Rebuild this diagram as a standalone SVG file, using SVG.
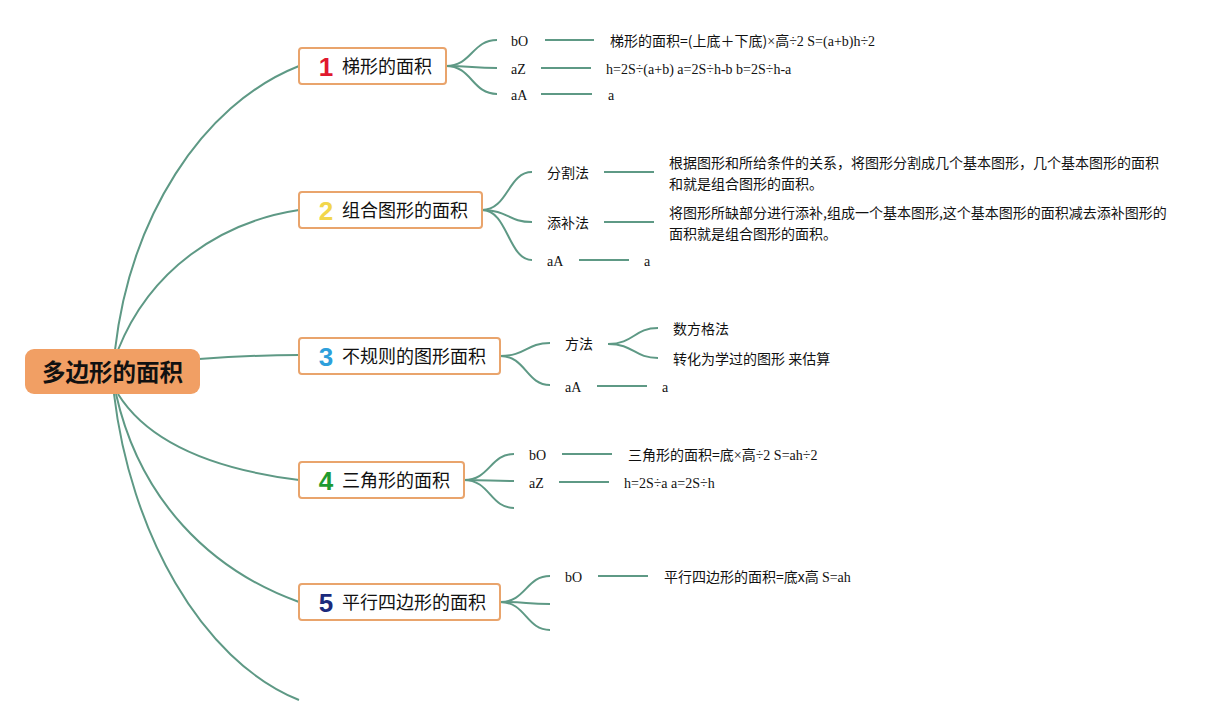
<svg xmlns="http://www.w3.org/2000/svg" width="1229" height="726" viewBox="0 0 1229 726">
<style>
.c{fill:none;stroke:#5E9985;stroke-width:2}
.nb{fill:#fff;stroke:#E9A46C;stroke-width:2}
.nt{font-family:"Noto Sans CJK SC","Noto Sans",sans-serif;font-size:18px;fill:#111}
.num{font-family:"Liberation Sans","Noto Sans",sans-serif;font-size:26px;font-weight:bold}
.s{font-family:"Liberation Serif","Noto Sans CJK SC",serif;font-size:14px;fill:#111}
.z{font-family:"Noto Sans CJK SC","Noto Sans",sans-serif;font-size:14px;fill:#111}
.r{font-family:"Liberation Serif",serif}
</style>
<rect width="1229" height="726" fill="#fff"/>
<g id="connectors">
<path class="c" d="M115,350 C130,220 200,105 299,66"/>
<path class="c" d="M118,350 C150,270 220,222 299,210"/>
<path class="c" d="M199,359 C240,356 270,355 299,355"/>
<path class="c" d="M118,394 C150,445 220,470 299,480"/>
<path class="c" d="M116,394 C140,500 210,570 299,602"/>
<path class="c" d="M114,394 C130,530 200,660 299,700"/>
<path class="c" d="M446,66 C472,66 472,40 497,40"/>
<path class="c" d="M446,66 C472,66 472,68 497,68"/>
<path class="c" d="M446,66 C472,66 472,94 497,94"/>
<path class="c" d="M545,40 H594 M541,68 H591 M541,94 H592"/>
<path class="c" d="M482,210 C508,210 508,172 532,172"/>
<path class="c" d="M482,210 C508,210 508,222 532,222"/>
<path class="c" d="M482,210 C508,210 508,260 532,260"/>
<path class="c" d="M604,172 H654 M604,222 H654 M579,260 H629"/>
<path class="c" d="M500,356 C526,356 526,343 550,343"/>
<path class="c" d="M500,356 C526,356 526,385 550,385"/>
<path class="c" d="M608,344 C634,344 634,328 658,328"/>
<path class="c" d="M608,344 C634,344 634,358 658,358"/>
<path class="c" d="M597,386 H647"/>
<path class="c" d="M464,480 C490,480 490,454 514,454"/>
<path class="c" d="M464,480 C490,480 490,481 514,481"/>
<path class="c" d="M464,480 C490,480 490,508 514,508"/>
<path class="c" d="M562,454 H612 M559,482 H609"/>
<path class="c" d="M500,602 C526,602 526,576 550,576"/>
<path class="c" d="M500,602 C526,602 526,604 550,604"/>
<path class="c" d="M500,602 C526,602 526,630 550,630"/>
<path class="c" d="M598,576 H648"/>
</g>
<g id="root">
<rect x="25" y="349" width="175" height="45" rx="9" fill="#F19F64"/>
<text x="112.5" y="381" text-anchor="middle" font-family="Noto Sans CJK SC,sans-serif" font-size="23.5" font-weight="bold" fill="#111">多边形的面积</text>
</g>
<g id="n1">
<rect class="nb" x="299" y="48" width="147" height="36" rx="3"/>
<text class="num" x="326" y="76" text-anchor="middle" fill="#E0192E">1</text>
<text class="nt" x="342" y="73">梯形的面积</text>
</g>
<g id="n1a"><text class="s" x="511" y="46">bO</text><text class="z" x="610" y="46">梯形的面积=(上底＋下底)<tspan class="r">×</tspan>高<tspan class="r">÷2 S=(a+b)h÷2</tspan></text></g>
<g id="n1b"><text class="s" x="511" y="74">aZ</text><text class="s" x="606" y="74">h=2S÷(a+b) a=2S÷h-b b=2S÷h-a</text></g>
<g id="n1c"><text class="s" x="511" y="100">aA</text><text class="s" x="608" y="100">a</text></g>
<g id="n2">
<rect class="nb" x="299" y="192" width="183" height="36" rx="3"/>
<text class="num" x="326" y="220" text-anchor="middle" fill="#F2D64B">2</text>
<text class="nt" x="342" y="217">组合图形的面积</text>
</g>
<g id="n2a"><text class="z" x="547" y="178">分割法</text><text class="z" x="669" y="168">根据图形和所给条件的关系，将图形分割成几个基本图形，几个基本图形的面积</text><text class="z" x="669" y="189">和就是组合图形的面积。</text></g>
<g id="n2b"><text class="z" x="547" y="228">添补法</text><text class="z" x="669" y="218">将图形所缺部分进行添补,组成一个基本图形,这个基本图形的面积减去添补图形的</text><text class="z" x="669" y="239">面积就是组合图形的面积。</text></g>
<g id="n2c"><text class="s" x="547" y="266">aA</text><text class="s" x="644" y="266">a</text></g>
<g id="n3">
<rect class="nb" x="299" y="338" width="201" height="36" rx="3"/>
<text class="num" x="326" y="366" text-anchor="middle" fill="#2E9FDB">3</text>
<text class="nt" x="342" y="363">不规则的图形面积</text>
</g>
<g id="n3a"><text class="z" x="565" y="349">方法</text><text class="z" x="673" y="334">数方格法</text><text class="z" x="673" y="364">转化为学过的图形 来估算</text></g>
<g id="n3b"><text class="s" x="565" y="392">aA</text><text class="s" x="662" y="392">a</text></g>
<g id="n4">
<rect class="nb" x="299" y="462" width="165" height="36" rx="3"/>
<text class="num" x="326" y="490" text-anchor="middle" fill="#1E9A30">4</text>
<text class="nt" x="342" y="487">三角形的面积</text>
</g>
<g id="n4a"><text class="s" x="529" y="460">bO</text><text class="z" x="628" y="460">三角形的面积=底<tspan class="r">×</tspan>高<tspan class="r">÷2 S=ah÷2</tspan></text></g>
<g id="n4b"><text class="s" x="529" y="488">aZ</text><text class="s" x="624" y="488">h=2S÷a a=2S÷h</text></g>
<g id="n5">
<rect class="nb" x="299" y="584" width="201" height="36" rx="3"/>
<text class="num" x="326" y="612" text-anchor="middle" fill="#1B2A7C">5</text>
<text class="nt" x="342" y="609">平行四边形的面积</text>
</g>
<g id="n5a"><text class="s" x="565" y="582">bO</text><text class="z" x="664" y="582">平行四边形的面积=底x高 <tspan class="r">S=ah</tspan></text></g>
</svg>
